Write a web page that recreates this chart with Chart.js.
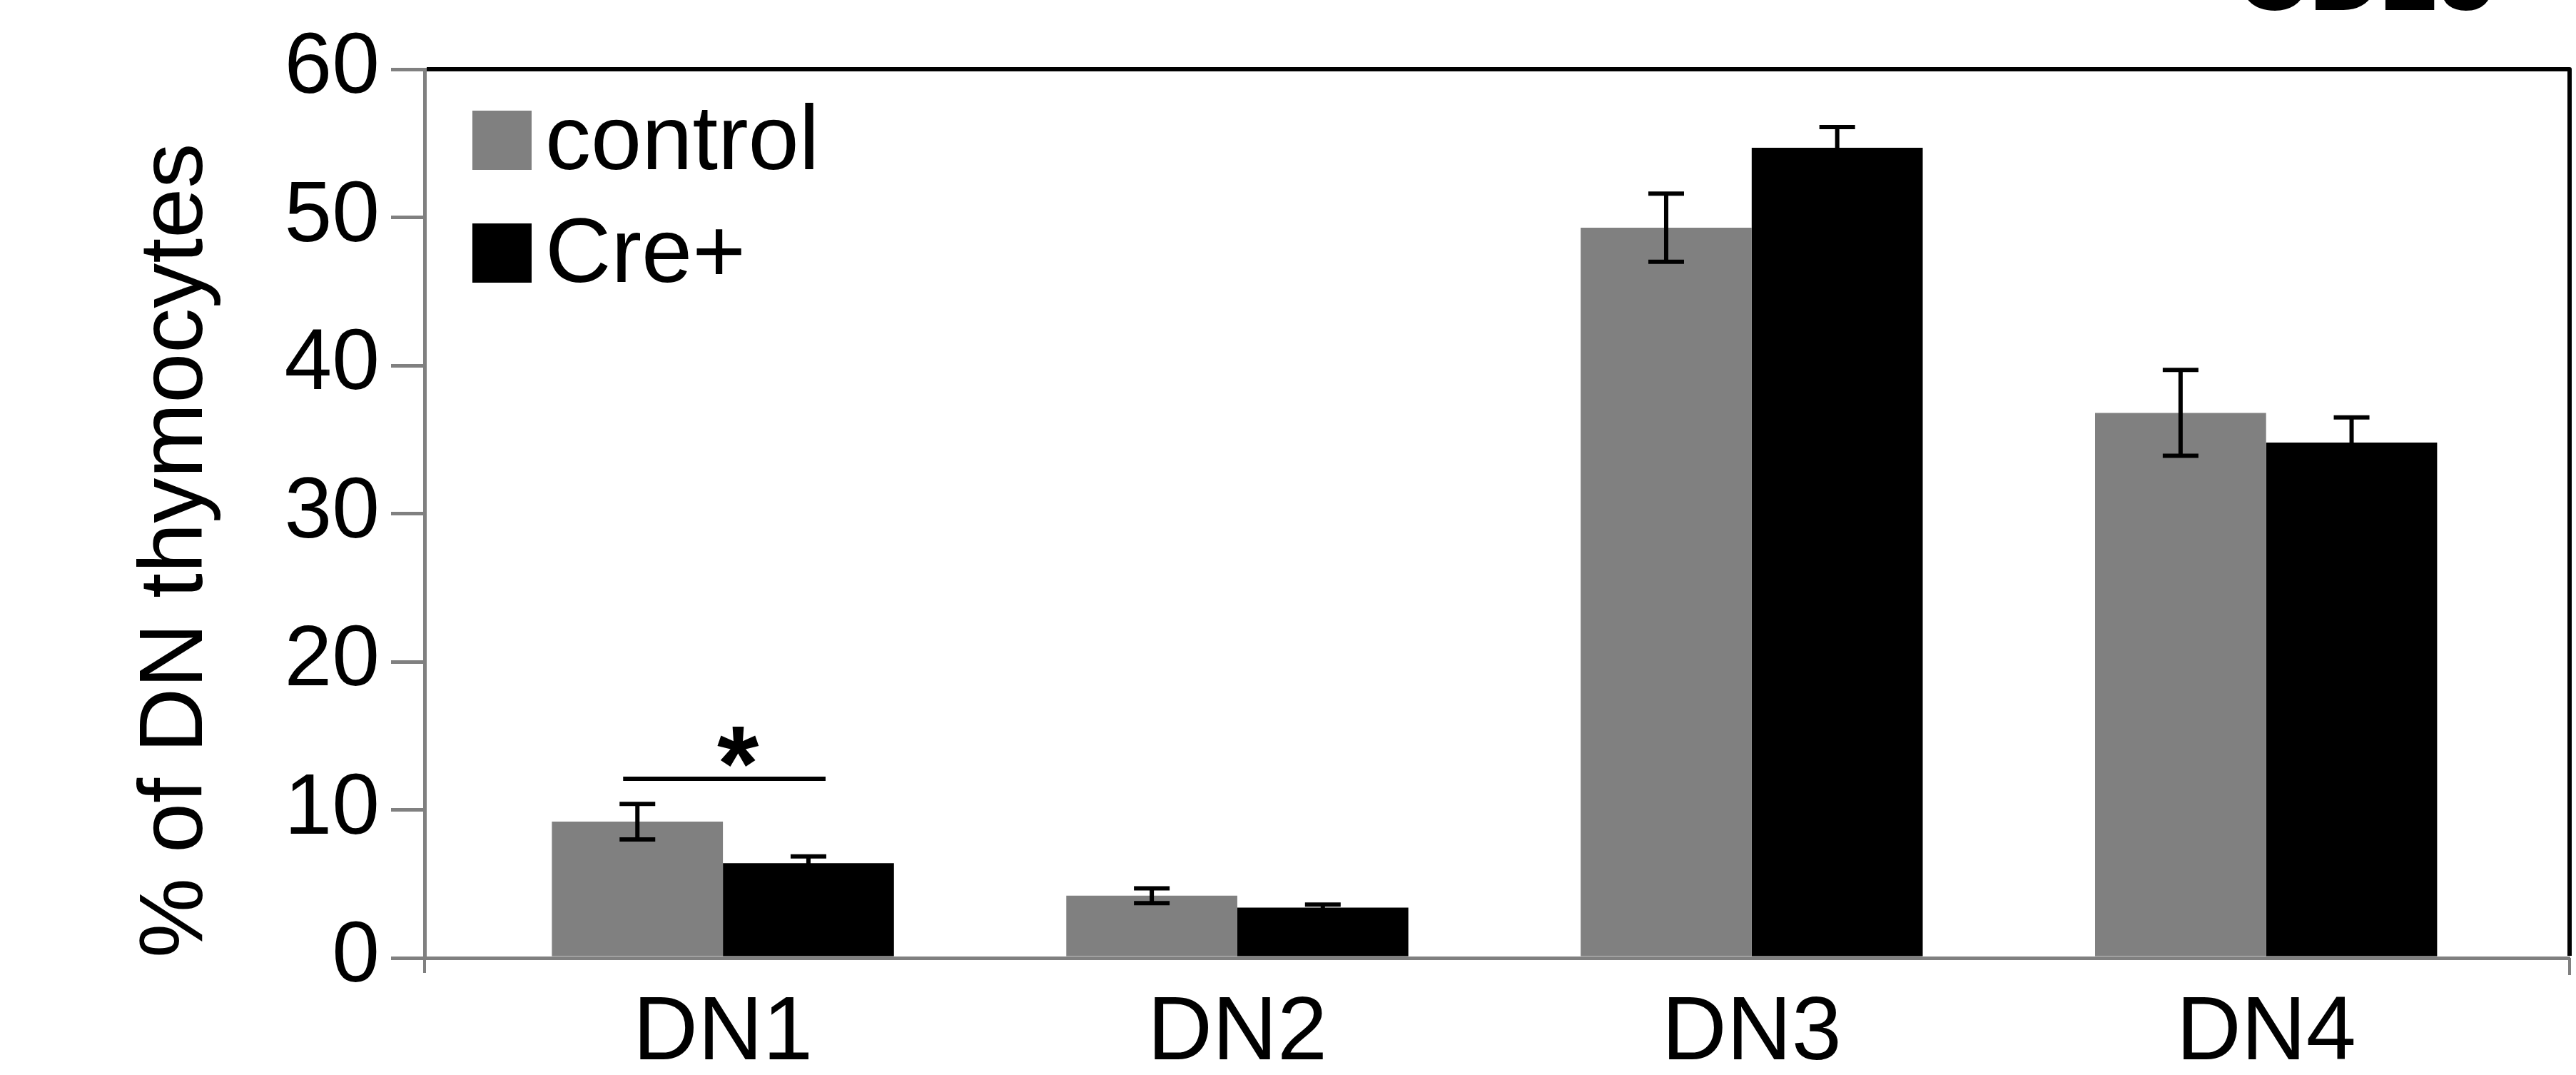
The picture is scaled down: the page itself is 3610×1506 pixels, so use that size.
<!DOCTYPE html>
<html>
<head>
<meta charset="utf-8">
<title>% of DN thymocytes</title>
<script src="https://cdn.jsdelivr.net/npm/chart.js@4.4.1/dist/chart.umd.min.js"></script>
<style>
  html, body { margin: 0; padding: 0; background: #fff; }
  #chart { display: block; }
</style>
</head>
<body>
<canvas id="chart" width="3610" height="1506"></canvas>
<script>
// values
const categories = ['DN1', 'DN2', 'DN3', 'DN4'];
const seriesNames = ['control', 'Cre+'];
const controlMeans = [9.2, 4.2, 49.3, 36.8];
const controlErrors = [1.2, 0.5, 2.3, 2.9];
const creMeans = [6.4, 3.4, 54.7, 34.8];
const creErrors = [0.45, 0.2, 1.4, 1.7];
const yTicks = [0, 10, 20, 30, 40, 50, 60];
const yTitle = '% of DN thymocytes';
const panelTitle = 'CD25';
// significance bar over DN1
const sigCategory = 0;
const sigLevel = 12.1;
const sigLabel = '*';

const FONT = "'Liberation Sans', Arial, Helvetica, sans-serif";
const AXIS_GRAY = '#808080';
Chart.defaults.font.family = FONT;
Chart.defaults.color = '#000';

// error bars, drawn on top of each bar
const errorBarPlugin = {
    id: 'errorBars',
    afterDatasetsDraw(chart) {
        const ctx = chart.ctx;
        const yScale = chart.scales.y;
        ctx.save();
        ctx.strokeStyle = '#000';
        ctx.lineWidth = 6;
        chart.data.datasets.forEach((ds, d) => {
            chart.getDatasetMeta(d).data.forEach((bar, i) => {
                const mean = ds.data[i].y;
                const err = ds.errors[i];
                const top = yScale.getPixelForValue(mean + err);
                const bottom = yScale.getPixelForValue(mean - err);
                ctx.beginPath();
                ctx.moveTo(bar.x, top);
                ctx.lineTo(bar.x, bottom);
                ctx.moveTo(bar.x - 25, top);
                ctx.lineTo(bar.x + 25, top);
                ctx.moveTo(bar.x - 25, bottom);
                ctx.lineTo(bar.x + 25, bottom);
                ctx.stroke();
            });
        });
        ctx.restore();
    }
};

// box, legend, significance mark and the cut-off panel title
const decorPlugin = {
    id: 'decor',
    afterDraw(chart) {
        const ctx = chart.ctx;
        const area = chart.chartArea;
        ctx.save();

        // black top and right frame
        ctx.strokeStyle = '#000';
        ctx.lineWidth = 6;
        ctx.lineJoin = 'round';
        ctx.beginPath();
        ctx.moveTo(area.left + 3, area.top);
        ctx.lineTo(area.right, area.top);
        ctx.lineTo(area.right, area.bottom - 3);
        ctx.stroke();

        // little gray ticks below the x axis at both ends
        ctx.strokeStyle = AXIS_GRAY;
        ctx.lineWidth = 4;
        ctx.beginPath();
        ctx.moveTo(area.left, area.bottom);
        ctx.lineTo(area.left, area.bottom + 21);
        ctx.moveTo(area.right, area.bottom);
        ctx.lineTo(area.right, area.bottom + 24);
        ctx.stroke();

        // legend inside the plot, top left
        ctx.font = `128px ${FONT}`;
        ctx.textAlign = 'left';
        ctx.textBaseline = 'alphabetic';
        chart.data.datasets.forEach((ds, i) => {
            const bx = area.left + 67;
            const by = area.top + 58 + i * 158;
            ctx.fillStyle = ds.backgroundColor;
            ctx.fillRect(bx, by, 83, 83);
            ctx.fillStyle = '#000';
            ctx.fillText(ds.label, bx + 102, by + 82);
        });

        // significance line + asterisk
        const a = chart.getDatasetMeta(0).data[sigCategory];
        const b = chart.getDatasetMeta(1).data[sigCategory];
        const ly = chart.scales.y.getPixelForValue(sigLevel);
        const x0 = a.x - 20;
        const x1 = b.x + 24;
        ctx.strokeStyle = '#000';
        ctx.lineWidth = 6;
        ctx.beginPath();
        ctx.moveTo(x0, ly);
        ctx.lineTo(x1, ly);
        ctx.stroke();
        ctx.font = `bold 150px ${FONT}`;
        ctx.textAlign = 'center';
        ctx.fillText(sigLabel, (x0 + x1) / 2 + 19, ly + 31);

        // panel title, mostly above the top edge
        ctx.font = `bold 142px ${FONT}`;
        ctx.textAlign = 'right';
        ctx.fillText(panelTitle, area.right - 105, 14);

        ctx.restore();
    }
};

function makeSeries(means) {
    return means.map((v, i) => ({ x: i, y: v }));
}

const chart = new Chart(document.getElementById('chart'), {
    type: 'bar',
    data: {
        datasets: [
            { label: seriesNames[0], data: makeSeries(controlMeans), errors: controlErrors, backgroundColor: '#808080' },
            { label: seriesNames[1], data: makeSeries(creMeans), errors: creErrors, backgroundColor: '#000000' }
        ]
    },
    options: {
        responsive: false,
        animation: false,
        events: [],
        categoryPercentage: 0.665,
        barPercentage: 1.0,
        layout: { padding: { top: 97, right: 9, bottom: 0, left: 0 } },
        plugins: {
            legend: { display: false },
            tooltip: { enabled: false },
            title: { display: false }
        },
        scales: {
            x: {
                type: 'linear',
                min: -0.58,
                max: 3.59,
                offset: false,
                afterBuildTicks: (s) => { s.ticks = categories.map((_, i) => ({ value: i })); },
                afterFit: (s) => { s.height = 164; },
                grid: { display: false, offset: false },
                border: { display: true, color: AXIS_GRAY, width: 5 },
                ticks: {
                    callback: (v) => categories[v] ?? '',
                    font: { size: 126 },
                    color: '#000',
                    padding: 24,
                    maxRotation: 0,
                    autoSkip: false
                }
            },
            y: {
                min: 0,
                max: 60,
                afterBuildTicks: (s) => { s.ticks = yTicks.map(v => ({ value: v })); },
                afterFit: (s) => { s.width = 595; },
                grid: { drawOnChartArea: false, color: AXIS_GRAY, lineWidth: 5, tickLength: 47 },
                border: { color: AXIS_GRAY, width: 5 },
                ticks: { font: { size: 120 }, color: '#000', padding: 16 },
                title: {
                    display: true,
                    text: yTitle,
                    align: 'start',
                    font: { size: 126 },
                    color: '#000',
                    padding: { top: 173, bottom: 0 }
                }
            }
        }
    },
    plugins: [errorBarPlugin, decorPlugin]
});
</script>
</body>
</html>
